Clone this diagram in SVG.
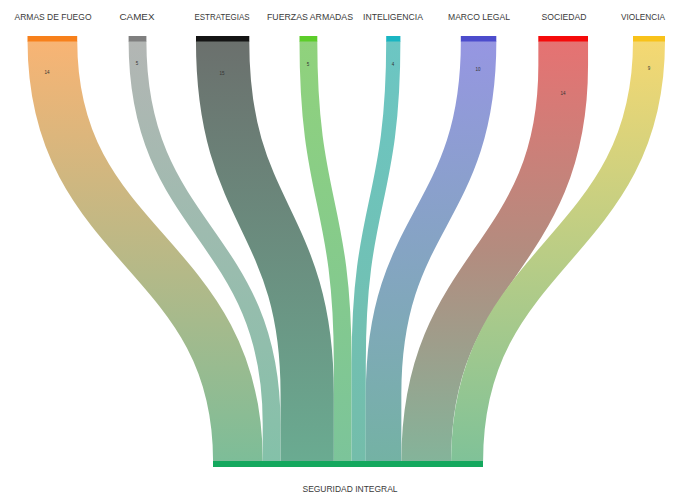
<svg xmlns="http://www.w3.org/2000/svg" width="673" height="495" viewBox="0 0 673 495">
<style>
.lbl{font-family:"Liberation Sans","DejaVu Sans",sans-serif;font-size:9.5px;fill:#3a3a3a;text-anchor:middle}
.val{font-family:"Liberation Sans","DejaVu Sans",sans-serif;font-size:4.5px;fill:#333;text-anchor:middle}
.link{fill:none}
</style>
<defs>
<linearGradient id="gA" gradientUnits="userSpaceOnUse" x1="0" y1="41" x2="0" y2="461"><stop offset="0" stop-color="#f8b474"/><stop offset="1" stop-color="#7dbd98"/></linearGradient>
<linearGradient id="gC" gradientUnits="userSpaceOnUse" x1="0" y1="41" x2="0" y2="461"><stop offset="0" stop-color="#b3b6b4"/><stop offset="1" stop-color="#84c1a9"/></linearGradient>
<linearGradient id="gE" gradientUnits="userSpaceOnUse" x1="0" y1="41" x2="0" y2="461"><stop offset="0" stop-color="#6b706d"/><stop offset="1" stop-color="#6aab91"/></linearGradient>
<linearGradient id="gF" gradientUnits="userSpaceOnUse" x1="0" y1="41" x2="0" y2="461"><stop offset="0" stop-color="#90d27c"/><stop offset="1" stop-color="#7cc49a"/></linearGradient>
<linearGradient id="gI" gradientUnits="userSpaceOnUse" x1="0" y1="41" x2="0" y2="461"><stop offset="0" stop-color="#6cc6c3"/><stop offset="1" stop-color="#74bdaa"/></linearGradient>
<linearGradient id="gM" gradientUnits="userSpaceOnUse" x1="0" y1="41" x2="0" y2="461"><stop offset="0" stop-color="#9696e2"/><stop offset="1" stop-color="#74b2a4"/></linearGradient>
<linearGradient id="gS" gradientUnits="userSpaceOnUse" x1="0" y1="41" x2="0" y2="461"><stop offset="0" stop-color="#e67272"/><stop offset="0.5" stop-color="#b38c7f"/><stop offset="1" stop-color="#84b49a"/></linearGradient>
<linearGradient id="gV" gradientUnits="userSpaceOnUse" x1="0" y1="41" x2="0" y2="461"><stop offset="0" stop-color="#f5d872"/><stop offset="1" stop-color="#80c298"/></linearGradient>
</defs>
<rect width="673" height="495" fill="#ffffff"/>
<g id="connectors">
<path class="link" d="M52.4,41 C52.4,251 237.9,251 237.9,461" stroke="url(#gA)" stroke-width="49.7"/>
<path class="link" d="M137.5,41 C137.5,232.5 271.6,232.5 271.6,424 L271.6,461" stroke="url(#gC)" stroke-width="17.8"/>
<path class="link" d="M222.6,41 C222.6,217.5 307.2,217.5 307.2,394 L307.2,461" stroke="url(#gE)" stroke-width="53.3"/>
<path class="link" d="M308.4,41 C308.4,202 342.7,202 342.7,363 L342.7,461" stroke="url(#gF)" stroke-width="17.8"/>
<path class="link" d="M393.3,41 C393.3,202 358.7,202 358.7,363 L358.7,461" stroke="url(#gI)" stroke-width="14.2"/>
<path class="link" d="M478.6,41 C478.6,217.5 383.6,217.5 383.6,394 L383.6,461" stroke="url(#gM)" stroke-width="35.5"/>
<path class="link" d="M563.2,41 L563.2,65 C563.2,263 426.2,263 426.2,461" stroke="url(#gS)" stroke-width="49.7"/>
<path class="link" d="M649,41 C649,251 467.1,251 467.1,461" stroke="url(#gV)" stroke-width="32"/>
</g>
<g id="n-armas"><rect x="27.5" y="36" width="49.7" height="5.5" fill="#f7801b"/><text class="lbl" x="53" y="20" textLength="77" lengthAdjust="spacingAndGlyphs">ARMAS DE FUEGO</text><text class="val" x="47" y="74">14</text></g>
<g id="n-camex"><rect x="128.6" y="36" width="17.8" height="5.5" fill="#7f7f7f"/><text class="lbl" x="137" y="20" textLength="35" lengthAdjust="spacingAndGlyphs">CAMEX</text><text class="val" x="137" y="65">5</text></g>
<g id="n-estrategias"><rect x="196" y="36" width="53.3" height="5.5" fill="#141414"/><text class="lbl" x="222" y="20" textLength="55" lengthAdjust="spacingAndGlyphs">ESTRATEGIAS</text><text class="val" x="222" y="75">15</text></g>
<g id="n-fuerzas"><rect x="299.5" y="36" width="17.8" height="5.5" fill="#5ccd2a"/><text class="lbl" x="310" y="20" textLength="86" lengthAdjust="spacingAndGlyphs">FUERZAS ARMADAS</text><text class="val" x="308" y="66">5</text></g>
<g id="n-inteligencia"><rect x="386.2" y="36" width="14.2" height="5.5" fill="#1ab5c2"/><text class="lbl" x="393" y="20" textLength="60" lengthAdjust="spacingAndGlyphs">INTELIGENCIA</text><text class="val" x="393" y="66">4</text></g>
<g id="n-marco"><rect x="460.8" y="36" width="35.5" height="5.5" fill="#4c4ccc"/><text class="lbl" x="479" y="20" textLength="62" lengthAdjust="spacingAndGlyphs">MARCO LEGAL</text><text class="val" x="478" y="71">10</text></g>
<g id="n-sociedad"><rect x="538.3" y="36" width="49.7" height="5.5" fill="#f50a0a"/><text class="lbl" x="564" y="20" textLength="45" lengthAdjust="spacingAndGlyphs">SOCIEDAD</text><text class="val" x="563" y="95">14</text></g>
<g id="n-violencia"><rect x="633" y="36" width="32" height="5.5" fill="#f8c21a"/><text class="lbl" x="643" y="20" textLength="44" lengthAdjust="spacingAndGlyphs">VIOLENCIA</text><text class="val" x="649" y="70">9</text></g>
<g id="n-seguridad"><rect x="213" y="461" width="270" height="6" fill="#14a85e"/><text class="lbl" x="350" y="492" textLength="95" lengthAdjust="spacingAndGlyphs">SEGURIDAD INTEGRAL</text></g>
</svg>
